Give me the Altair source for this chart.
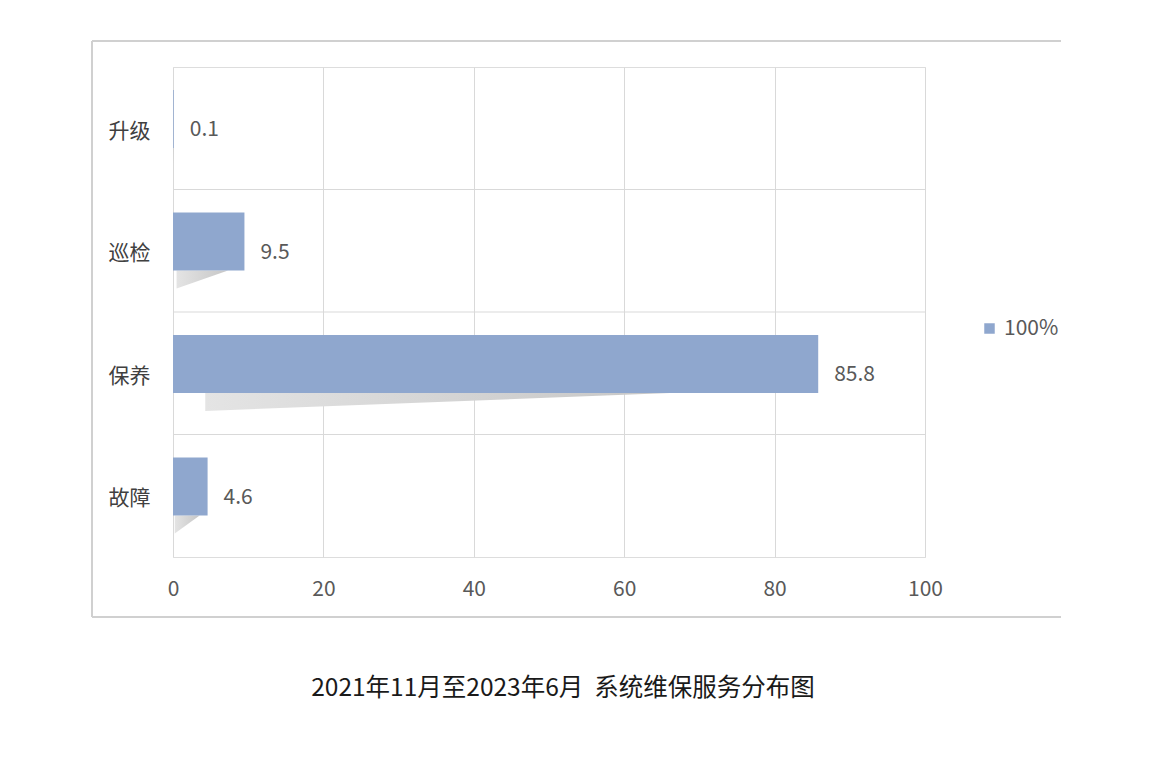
import json
import altair as alt
import pandas as pd

categories = ["升级", "巡检", "保养", "故障"]
values = [0.1, 9.5, 85.8, 4.6]
series_name = "100%"
x_ticks = [0, 20, 40, 60, 80, 100]
caption = "2021年11月至2023年6月\u00a0\u00a0系统维保服务分布图"

BAR_COLOR = "#8FA7CE"
GRID = "#d9d9d9"
TXT = "#595959"
FONT = "Noto Sans CJK SC"

df = pd.DataFrame({"cat": categories, "val": values, "idx": list(range(len(categories)))})
df["series"] = series_name

# shadow polygon points derived from data
rows = []
for c, v, i in zip(categories, values, range(len(categories))):
    rows.append({"cat": c, "idx": i, "frac": 0.05, "val": v, "depth": 0.147})
    rows.append({"cat": c, "idx": i, "frac": 0.77, "val": v, "depth": 0.0})
sh = pd.DataFrame(rows)

yscale = alt.Scale(domain=[0, len(categories)], reverse=True, nice=False, zero=False)
xscale = alt.Scale(domain=[0, 100], nice=False)

label_expr = "%s[floor(datum.value)]" % json.dumps(categories, ensure_ascii=False)

y_axis = alt.Axis(
    values=[i + 0.5 for i in range(len(categories))], labelExpr=label_expr, title=None,
    grid=False, ticks=False, domain=False, labelFontSize=21, labelColor="#404040",
    labelFont=FONT, labelPadding=23, labelBaseline="middle", labelOffset=3,
)
x_axis = alt.Axis(
    values=x_ticks, title=None, grid=True, gridColor=GRID, ticks=False, domain=False,
    labelFontSize=21, labelColor=TXT, labelFont=FONT, labelPadding=21, labelFlush=False,
)

base = alt.Chart(df)

sep = base.transform_filter("datum.idx > 0").mark_rule(color=GRID, strokeWidth=1).encode(
    y=alt.Y("idx:Q", scale=yscale, axis=y_axis)
)

shadow = alt.Chart(sh).transform_calculate(
    xs="datum.frac * datum.val",
    yt="datum.idx + 0.661",
    yb="datum.idx + 0.661 + datum.depth",
).mark_area(
    color=alt.Gradient(
        gradient="linear",
        stops=[alt.GradientStop(color="#e4e4e4", offset=0), alt.GradientStop(color="#c6c6c6", offset=1)],
        x1=0, x2=1, y1=0, y2=0,
    ),
    orient="vertical",
).encode(
    x=alt.X("xs:Q", scale=xscale, axis=x_axis),
    y=alt.Y("yt:Q", scale=yscale, axis=y_axis),
    y2="yb:Q",
    detail="cat:N",
)

bars = base.transform_calculate(
    y0="datum.idx + 0.188", y1="datum.idx + 0.661", x0="0"
).mark_rect().encode(
    x=alt.X("x0:Q", scale=xscale, axis=x_axis),
    x2="val:Q",
    y=alt.Y("y0:Q", scale=yscale, axis=y_axis),
    y2="y1:Q",
    color=alt.Color(
        "series:N",
        scale=alt.Scale(range=[BAR_COLOR]),
        legend=alt.Legend(
            title=None, orient="none", legendX=806, legendY=251, symbolType="square",
            symbolSize=110, labelFontSize=21, labelColor=TXT, labelFont=FONT, symbolStrokeWidth=0,
        ),
    ),
)

labels = base.transform_calculate(yl="datum.idx + 0.515").mark_text(
    align="left", baseline="middle", dx=16, fontSize=21, color=TXT, font=FONT
).encode(
    x=alt.X("val:Q", scale=xscale),
    y=alt.Y("yl:Q", scale=yscale),
    text=alt.Text("val:Q", format=".1f"),
)

frame_df = pd.DataFrame({"k": [0]})
frame = alt.Chart(frame_df)
top_line = frame.mark_rule(color="#d0d0d0", strokeWidth=2).encode(
    x=alt.value(-81), x2=alt.value(888), y=alt.value(-26)
)
bot_line = frame.mark_rule(color="#d0d0d0", strokeWidth=2).encode(
    x=alt.value(-81), x2=alt.value(888), y=alt.value(550)
)
left_line = frame.mark_rule(color="#d0d0d0", strokeWidth=2).encode(
    x=alt.value(-81), y=alt.value(-26), y2=alt.value(550)
)

cap = alt.Chart(pd.DataFrame({"t": [caption]})).mark_text(
    fontSize=24.5, font=FONT, color="#1a1a1a", align="center", baseline="middle"
).encode(text="t:N", x=alt.value(390), y=alt.value(622))

chart = alt.layer(sep, shadow, bars, labels, top_line, bot_line, left_line, cap).properties(
    width=752, height=490,
    autosize=alt.AutoSizeParams(type="none"),
    padding={"left": 165, "top": 59, "right": 230, "bottom": 190},
).configure_view(stroke=GRID, strokeWidth=1).configure(background="white")

chart.save("out.html", embed_options={"renderer": "svg", "actions": False})
